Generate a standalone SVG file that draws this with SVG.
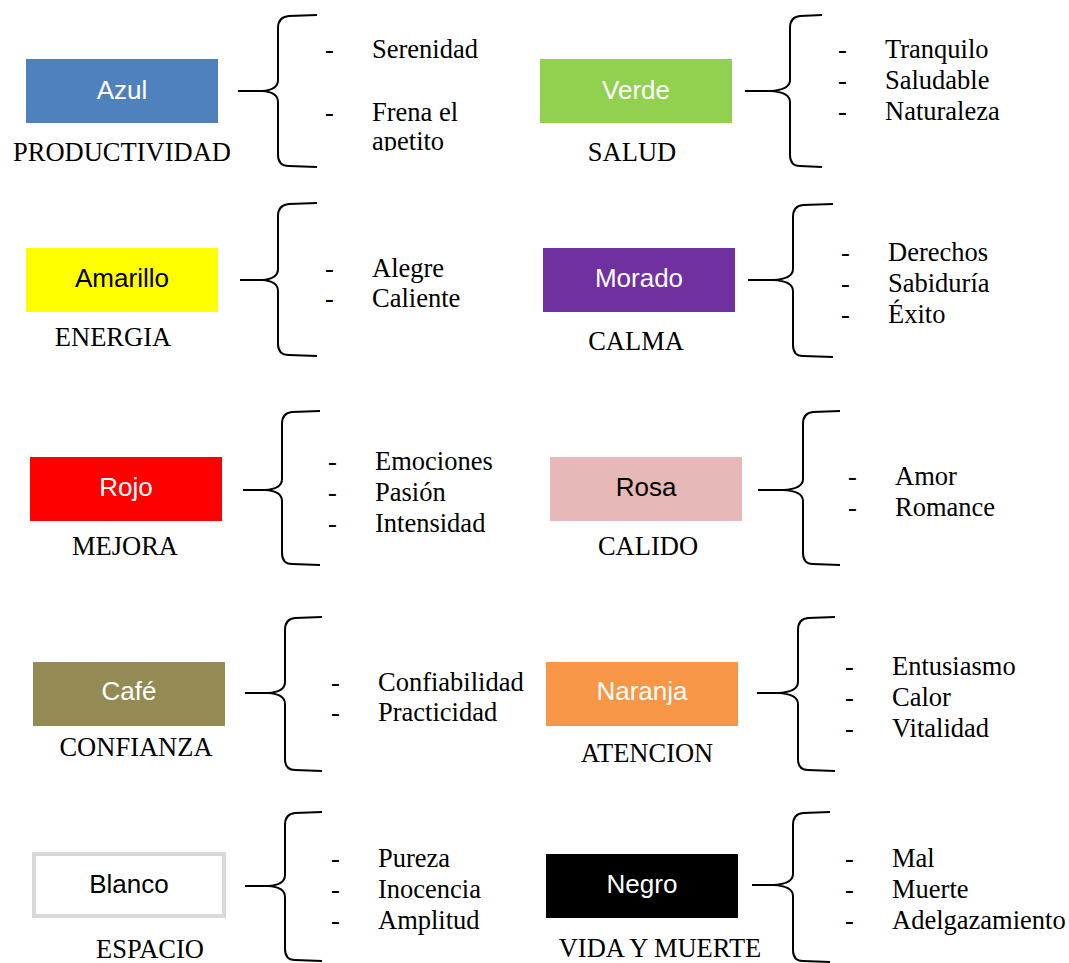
<svg xmlns="http://www.w3.org/2000/svg" width="1069" height="963" viewBox="0 0 1069 963">
<style>
.box-t{font-family:"Liberation Sans",Arial,sans-serif;font-size:26px;text-anchor:middle}
.w{fill:#fff}.k{fill:#000}
.lbl{font-family:"Liberation Serif","Times New Roman",serif;font-size:26.5px;fill:#000}
.c{text-anchor:middle}
.br{fill:none;stroke:#000;stroke-width:2}
</style>
<defs>
<clipPath id="clipApetito"><rect x="360" y="0" width="150" height="151"/></clipPath>
</defs>
<rect width="1069" height="963" fill="#fff"/>

<g id="connectors">
<path class="br" d="M317,15 L289,16 Q278,17 278,28 L278,80 Q278,90 262,91 M238,91 L262,91 Q278,92 278,102 L278,155 Q278,166 289,166 L317,167"/>
<path class="br" d="M822,15 L800,16 Q790,17 790,28 L790,80 Q790,90 770,91 M745,91 L770,91 Q790,92 790,102 L790,155 Q790,166 800,166 L822,167"/>
<path class="br" d="M317,203 L289,204 Q278,205 278,216 L278,269 Q278,279 262,280 M240,280 L262,280 Q278,281 278,291 L278,344 Q278,355 289,355 L317,356"/>
<path class="br" d="M833,204 L803,205 Q793,206 793,217 L793,269 Q793,279 773,280 M748,280 L773,280 Q793,281 793,291 L793,345 Q793,356 803,356 L833,357"/>
<path class="br" d="M320,411 L292,412 Q282,413 282,424 L282,479 Q282,489 265,490 M243,490 L265,490 Q282,491 282,501 L282,553 Q282,564 292,564 L320,565"/>
<path class="br" d="M840,411 L813,412 Q803,413 803,424 L803,479 Q803,489 783,490 M758,490 L783,490 Q803,491 803,501 L803,553 Q803,564 813,564 L840,565"/>
<path class="br" d="M322,617 L295,618 Q285,619 285,630 L285,682 Q285,692 268,693 M245,693 L268,693 Q285,694 285,704 L285,759 Q285,770 295,770 L322,771"/>
<path class="br" d="M835,617 L808,618 Q798,619 798,630 L798,682 Q798,692 778,693 M757,693 L778,693 Q798,694 798,704 L798,759 Q798,770 808,770 L835,771"/>
<path class="br" d="M322,812 L295,813 Q285,814 285,825 L285,875 Q285,885 268,886 M245,886 L268,886 Q285,887 285,897 L285,949 Q285,960 295,960 L322,961"/>
<path class="br" d="M830,812 L803,813 Q793,814 793,825 L793,874 Q793,884 773,885 M752,885 L773,885 Q793,886 793,896 L793,950 Q793,961 803,961 L830,962"/>
</g>

<g id="azul">
<rect x="26" y="59" width="192" height="64" fill="#4F81BD"/>
<text class="box-t w" x="122" y="99">Azul</text>
<text class="lbl c" x="122" y="161">PRODUCTIVIDAD</text>
<text class="lbl" x="325" y="58">-</text><text class="lbl" x="372" y="58">Serenidad</text>
<text class="lbl" x="325" y="121">-</text><text class="lbl" x="372" y="121">Frena el</text>
<text class="lbl" x="372" y="150" clip-path="url(#clipApetito)">apetito</text>
</g>

<g id="verde">
<rect x="540" y="59" width="192" height="64" fill="#92D050"/>
<text class="box-t w" x="636" y="99">Verde</text>
<text class="lbl c" x="632" y="161">SALUD</text>
<text class="lbl" x="838" y="58">-</text><text class="lbl" x="885" y="58">Tranquilo</text>
<text class="lbl" x="838" y="89">-</text><text class="lbl" x="885" y="89">Saludable</text>
<text class="lbl" x="838" y="120">-</text><text class="lbl" x="885" y="120">Naturaleza</text>
</g>

<g id="amarillo">
<rect x="26" y="248" width="192" height="64" fill="#FFFF00"/>
<text class="box-t k" x="122" y="287">Amarillo</text>
<text class="lbl c" x="113" y="346">ENERGIA</text>
<text class="lbl" x="325" y="277">-</text><text class="lbl" x="372" y="277">Alegre</text>
<text class="lbl" x="325" y="307">-</text><text class="lbl" x="372" y="307">Caliente</text>
</g>

<g id="morado">
<rect x="543" y="248" width="192" height="64" fill="#7030A0"/>
<text class="box-t w" x="639" y="287">Morado</text>
<text class="lbl c" x="636" y="350">CALMA</text>
<text class="lbl" x="841" y="261">-</text><text class="lbl" x="888" y="261">Derechos</text>
<text class="lbl" x="841" y="292">-</text><text class="lbl" x="888" y="292">Sabiduría</text>
<text class="lbl" x="841" y="323">-</text><text class="lbl" x="888" y="323">Éxito</text>
</g>

<g id="rojo">
<rect x="30" y="457" width="192" height="64" fill="#FF0000"/>
<text class="box-t w" x="126" y="496">Rojo</text>
<text class="lbl c" x="125" y="555">MEJORA</text>
<text class="lbl" x="328" y="470">-</text><text class="lbl" x="375" y="470">Emociones</text>
<text class="lbl" x="328" y="501">-</text><text class="lbl" x="375" y="501">Pasión</text>
<text class="lbl" x="328" y="532">-</text><text class="lbl" x="375" y="532">Intensidad</text>
</g>

<g id="rosa">
<rect x="550" y="457" width="192" height="64" fill="#E6B9B8"/>
<text class="box-t k" x="646" y="496">Rosa</text>
<text class="lbl c" x="648" y="555">CALIDO</text>
<text class="lbl" x="848" y="485">-</text><text class="lbl" x="895" y="485">Amor</text>
<text class="lbl" x="848" y="516">-</text><text class="lbl" x="895" y="516">Romance</text>
</g>

<g id="cafe">
<rect x="33" y="662" width="192" height="64" fill="#948A54"/>
<text class="box-t w" x="129" y="700">Café</text>
<text class="lbl c" x="136" y="756">CONFIANZA</text>
<text class="lbl" x="331" y="691">-</text><text class="lbl" x="378" y="691">Confiabilidad</text>
<text class="lbl" x="331" y="721">-</text><text class="lbl" x="378" y="721">Practicidad</text>
</g>

<g id="naranja">
<rect x="546" y="662" width="192" height="64" fill="#F79646"/>
<text class="box-t w" x="642" y="700">Naranja</text>
<text class="lbl c" x="647" y="762">ATENCION</text>
<text class="lbl" x="845" y="675">-</text><text class="lbl" x="892" y="675">Entusiasmo</text>
<text class="lbl" x="845" y="706">-</text><text class="lbl" x="892" y="706">Calor</text>
<text class="lbl" x="845" y="737">-</text><text class="lbl" x="892" y="737">Vitalidad</text>
</g>

<g id="blanco">
<rect x="34" y="854" width="190" height="62" fill="#fff" stroke="#D9D9D9" stroke-width="4"/>
<text class="box-t k" x="129" y="893">Blanco</text>
<text class="lbl c" x="150" y="958">ESPACIO</text>
<text class="lbl" x="331" y="867">-</text><text class="lbl" x="378" y="867">Pureza</text>
<text class="lbl" x="331" y="898">-</text><text class="lbl" x="378" y="898">Inocencia</text>
<text class="lbl" x="331" y="929">-</text><text class="lbl" x="378" y="929">Amplitud</text>
</g>

<g id="negro">
<rect x="546" y="854" width="192" height="64" fill="#000"/>
<text class="box-t w" x="642" y="893">Negro</text>
<text class="lbl c" x="660" y="957">VIDA Y MUERTE</text>
<text class="lbl" x="845" y="867">-</text><text class="lbl" x="892" y="867">Mal</text>
<text class="lbl" x="845" y="898">-</text><text class="lbl" x="892" y="898">Muerte</text>
<text class="lbl" x="845" y="929">-</text><text class="lbl" x="892" y="929">Adelgazamiento</text>
</g>
</svg>
